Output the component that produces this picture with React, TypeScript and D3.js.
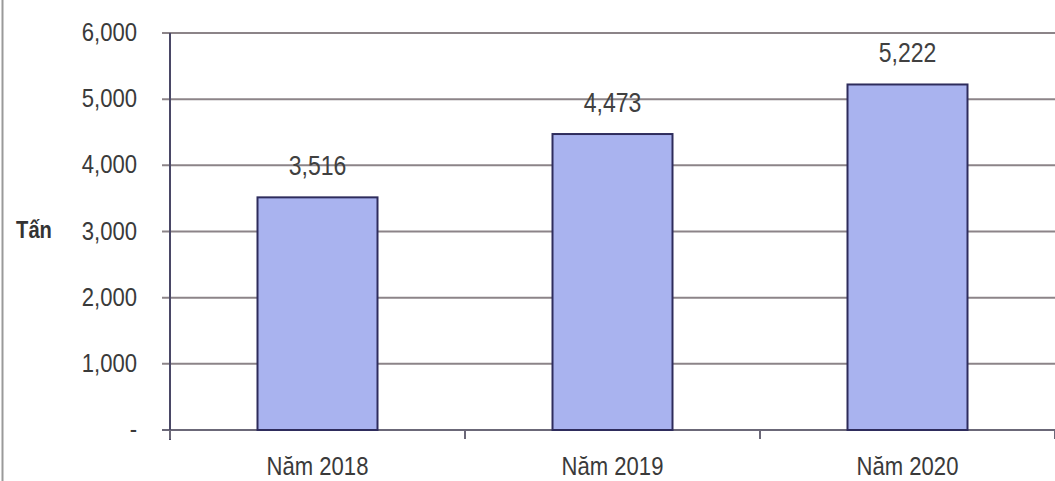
import React from "react";
import * as d3 from "d3";

const categories = ["Năm 2018", "Năm 2019", "Năm 2020"];
const values = [3516, 4473, 5222];
const yTicks = [0, 1000, 2000, 3000, 4000, 5000, 6000];
const yLabel = "Tấn";

const W = 1055;
const H = 481;
const left = 170;
const right = 1055;
const top = 33;
const bottom = 430;

function T(props: { x: number; y: number; size: number; anchor: string; fill: string; bold?: boolean; children: React.ReactNode }) {
  return (
    <text
      transform={`translate(${props.x},${props.y}) scale(0.96,1.12)`}
      textAnchor={props.anchor}
      fontFamily="'Liberation Sans', Arial, sans-serif"
      fontSize={props.size}
      fontWeight={props.bold ? "bold" : "normal"}
      fill={props.fill}
    >
      {props.children}
    </text>
  );
}

export default function App() {
  const x = d3.scaleBand<string>().domain(categories).range([left, right]).paddingInner(0).paddingOuter(0);
  const y = d3.scaleLinear().domain([0, 6000]).range([bottom, top]);
  const bw = 120;
  const fmt = d3.format(",");
  const bounds = [left, ...categories.map((c) => (x(c) as number) + x.bandwidth())];

  return (
    <svg width={W} height={H} style={{ position: "absolute", left: 0, top: 0, background: "#fff" }}>
      <line x1={2.5} x2={2.5} y1={0} y2={H} stroke="#9a9a9a" strokeWidth={2} />
      {yTicks.map((t) => (
        <g key={t}>
          <line x1={162} x2={right} y1={y(t)} y2={y(t)} stroke={t === 0 ? "#6b6878" : "#8c8488"} strokeWidth={2} />
          <T x={137} y={y(t) + 8} anchor="end" size={23} fill="#3a3a3a">
            {t === 0 ? "-" : fmt(t)}
          </T>
        </g>
      ))}
      <line x1={left} x2={left} y1={top} y2={bottom + 10} stroke="#4a4866" strokeWidth={2} />
      {bounds.map((b, i) => (
        <line key={i} x1={b} x2={b} y1={bottom} y2={bottom + 9} stroke="#6b6878" strokeWidth={2} />
      ))}
      <T x={34} y={238} anchor="middle" size={21} fill="#333" bold>
        {yLabel}
      </T>
      {categories.map((c, i) => {
        const cx = (x(c) as number) + x.bandwidth() / 2;
        return (
          <g key={c}>
            <rect
              x={cx - bw / 2}
              y={y(values[i])}
              width={bw}
              height={bottom - y(values[i])}
              fill="#a9b3ef"
              stroke="#2e2c5c"
              strokeWidth={2}
            />
            <T x={cx} y={y(values[i]) - 22} anchor="middle" size={24} fill="#404040">
              {fmt(values[i])}
            </T>
            <T x={cx} y={475} anchor="middle" size={23} fill="#3a3a3a">
              {c}
            </T>
          </g>
        );
      })}
    </svg>
  );
}
